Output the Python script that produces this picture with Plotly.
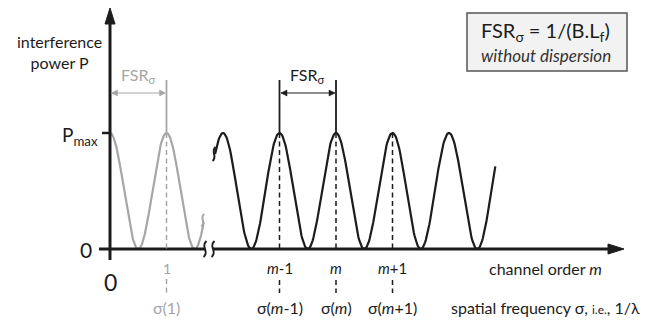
import numpy as np
import plotly.graph_objects as go

# ---- data -------------------------------------------------------------
P_MAX = 1.0
low_orders = [0, 1]                       # first fringes (grey)
low_order_labels = ["0", "1"]
low_sigma_labels = ["", "σ(1)"]
high_orders = [3, 4, 5]                   # m-1, m, m+1 on the broken axis
high_order_labels = ["<i>m</i>-1", "<i>m</i>", "<i>m</i>+1"]
high_sigma_labels = ["σ(<i>m</i>-1)", "σ(<i>m</i>)", "σ(<i>m</i>+1)"]
low_span = [0.0, 1.66]                    # extent of grey fringe pattern
high_span = [1.86, 6.82]                  # extent of black fringe pattern
fsr_low = [0, 1]
fsr_high = [3, 4]

# ---- geometry / style --------------------------------------------------
W, H = 657, 322
OX, OY = 110, 249          # origin in page pixels
SX, SY = 56.5, 116.0       # pixels per order / per Pmax
GREY = "#a6a6a6"
BLACK = "#1c1c1c"
FONT = "Lato"


def px(v):
    return v / SX


def py(v):
    return v / SY


def fringe(a, b):
    s = np.linspace(a, b, 400)
    return s, P_MAX * np.cos(np.pi * s) ** 2


fig = go.Figure()
xs, ys = fringe(*low_span)
fig.add_trace(go.Scatter(x=xs, y=ys, mode="lines", line=dict(color=GREY, width=2.2),
                         hoverinfo="skip"))
xs, ys = fringe(*high_span)
fig.add_trace(go.Scatter(x=xs, y=ys, mode="lines", line=dict(color=BLACK, width=2.2),
                         hoverinfo="skip"))

shapes = []


def line(x0, y0, x1, y1, color=BLACK, width=1.5, dash="solid"):
    shapes.append(dict(type="line", xref="x", yref="y", x0=x0, y0=y0, x1=x1, y1=y1,
                       line=dict(color=color, width=width, dash=dash), layer="above"))


def path(d, color=BLACK, width=2, fill=None):
    s = dict(type="path", xref="x", yref="y", path=d,
             line=dict(color=color, width=width), layer="above")
    if fill:
        s["fillcolor"] = fill
    shapes.append(s)


def squiggle(xc, yc, color, h=8, w=5, width=2):
    d = (f"M{xc + px(1.5)},{yc + py(h)} "
         f"C{xc - px(w)},{yc + py(h * 0.3)} {xc + px(w)},{yc - py(h * 0.3)} "
         f"{xc - px(1.5)},{yc - py(h)}")
    path(d, color, width)


# y axis with arrow
y_tip = py(OY - 8)
y_base = py(OY - 24)
line(0, py(-11), 0, y_base, BLACK, 3)
path(f"M0,{y_tip} L{px(-5)},{y_base} L{px(5)},{y_base} Z", BLACK, 1, BLACK)
# Pmax tick
line(px(-8), P_MAX, 0, P_MAX, BLACK, 2.5)

# x axis, broken, with arrow
x_tip = px(624 - OX)
x_base = px(608 - OX)
line(px(-11), 0, px(95), 0, BLACK, 3)
line(px(103), 0, x_base, 0, BLACK, 3)
path(f"M{x_tip},0 L{x_base},{py(5)} L{x_base},{py(-5)} Z", BLACK, 1, BLACK)
squiggle(px(95), 0, BLACK)
squiggle(px(103), 0, BLACK)

# break marks on the fringe patterns
squiggle(low_span[1] - px(1), P_MAX * np.cos(np.pi * low_span[1]) ** 2 + py(2), GREY, h=6, w=4)
squiggle(high_span[0] - px(1), P_MAX * np.cos(np.pi * high_span[0]) ** 2, BLACK, h=7, w=4)

# dashed order markers
dash = "5px,3.5px"
for o in low_orders[1:]:
    line(o, P_MAX, o, 0, GREY, 1.5, dash)
    line(o, py(-30), o, py(-44), GREY, 1.5, dash)
for o in high_orders:
    line(o, P_MAX, o, 0, BLACK, 1.5, dash)
    line(o, py(-31), o, py(-44), BLACK, 1.5, dash)

# FSR brackets
top = py(OY - 80)
yarr = py(OY - 93)


def fsr(pair, color):
    a, b = pair
    for o in pair:
        if o != 0:
            line(o, P_MAX, o, top, color, 1.8)
    line(a + px(1.5), yarr, b - px(1.5), yarr, color, 1.2)
    hl, hh = px(6), py(3)
    path(f"M{a + px(1.5)},{yarr} L{a + px(1.5) + hl},{yarr + hh} L{a + px(1.5) + hl},{yarr - hh} Z",
         color, 0.5, color)
    path(f"M{b - px(1)},{yarr} L{b - px(1) - hl},{yarr + hh} L{b - px(1) - hl},{yarr - hh} Z",
         color, 0.5, color)


fsr(fsr_low, GREY)
fsr(fsr_high, BLACK)

# formula box
shapes.append(dict(type="rect", xref="x", yref="y",
                   x0=px(467 - OX), x1=px(627 - OX), y0=py(OY - 13), y1=py(OY - 71),
                   fillcolor="#f2f2f2", line=dict(color="#555555", width=1.5), layer="below"))

ann = []


def text(x, y, s, size, color=BLACK, xanchor="center", yanchor="middle", **kw):
    ann.append(dict(x=x, y=y, xref="x", yref="y", text=s, showarrow=False,
                    font=dict(family=FONT, size=size, color=color),
                    xanchor=xanchor, yanchor=yanchor, **kw))


text(px(59 - OX), py(OY - 52), "interference<br>power P", 16)
text(px(100 - OX), P_MAX - py(3), "P<sub>max</sub>", 19, xanchor="right")
text(px(86 - OX), 0, "0", 21)
text(0, py(OY - 282), "0", 23)

for o, lab, sig in zip(low_orders[1:], low_order_labels[1:], low_sigma_labels[1:]):
    text(o, py(OY - 268), lab, 14, GREY)
    text(o, py(OY - 307), sig, 16, GREY)
for o, lab, sig in zip(high_orders, high_order_labels, high_sigma_labels):
    text(o, py(OY - 268), lab, 15)
    text(o, py(OY - 307), sig, 16)

text((fsr_low[0] + fsr_low[1]) / 2, py(OY - 75), "FSR<sub>σ</sub>", 16, GREY)
text((fsr_high[0] + fsr_high[1]) / 2, py(OY - 75), "FSR<sub>σ</sub>", 16)

text(px(545 - OX), py(OY - 268), "channel order <i>m</i>", 16)
text(px(545 - OX), py(OY - 307),
     "spatial frequency σ, <span style='font-size:12px'>i.e.</span>, 1/λ", 16)

text(px(545 - OX), py(OY - 31), "FSR<sub>σ</sub> = 1/(B.L<sub>f</sub>)", 20)
text(px(546 - OX), py(OY - 55), "<i>without dispersion</i>", 17, "#333333")

fig.update_layout(
    width=W, height=H, margin=dict(l=0, r=0, t=0, b=0),
    paper_bgcolor="white", plot_bgcolor="white", showlegend=False,
    xaxis=dict(visible=False, range=[-OX / SX, (W - OX) / SX], fixedrange=True),
    yaxis=dict(visible=False, range=[-(H - OY) / SY, OY / SY], fixedrange=True),
    shapes=shapes, annotations=ann,
)
fig.write_html("out.html")
